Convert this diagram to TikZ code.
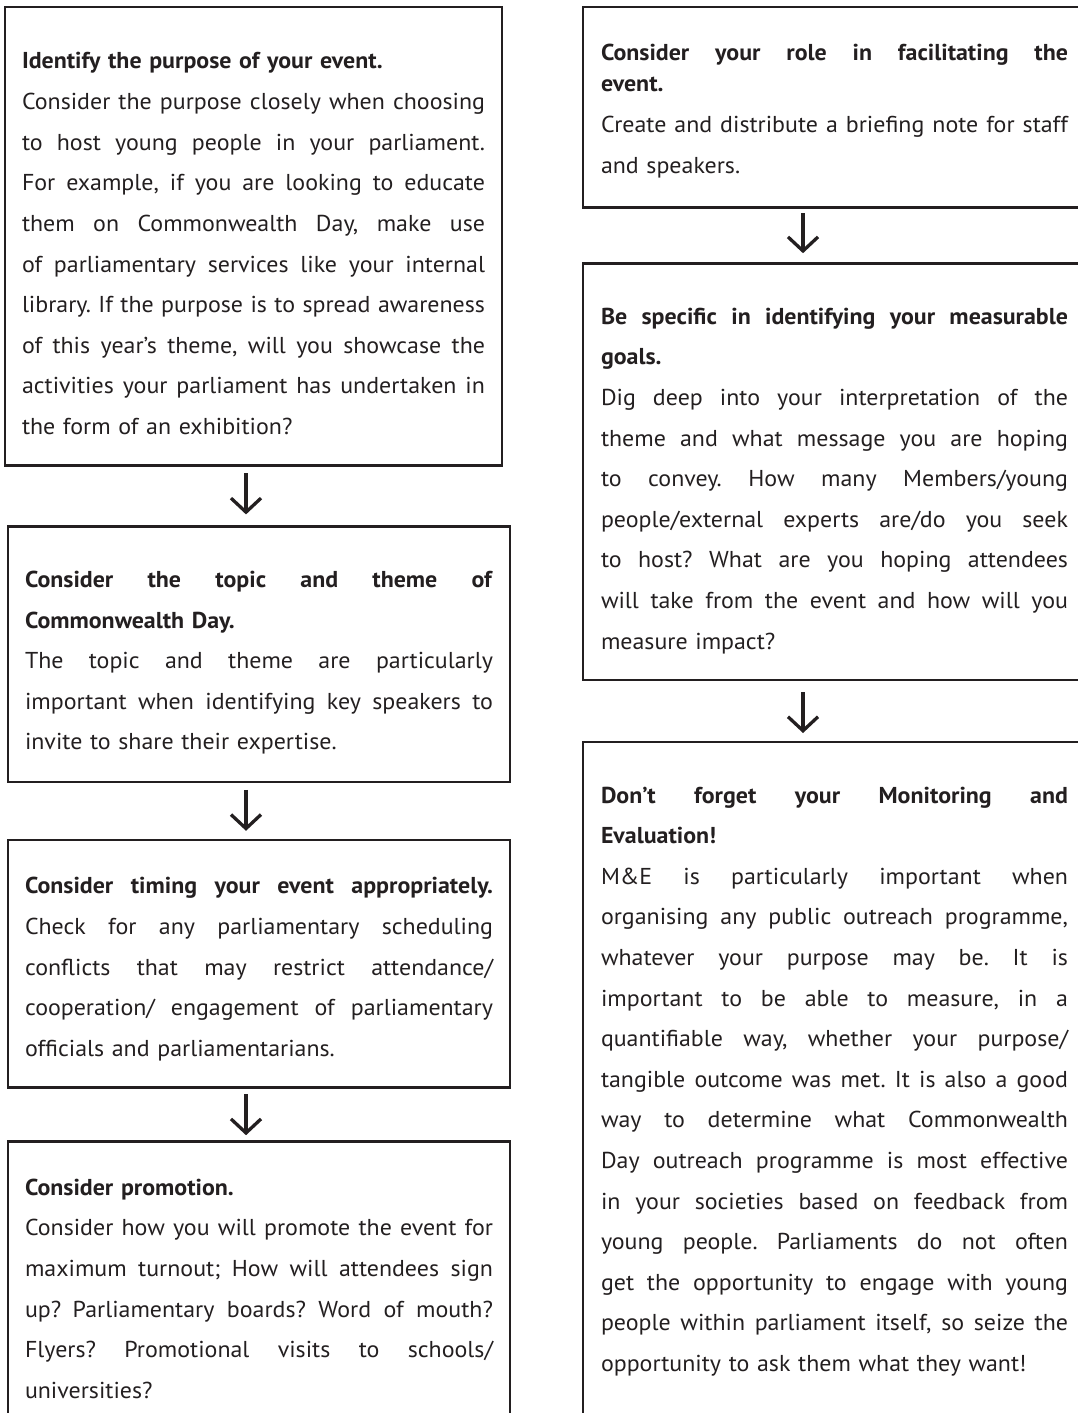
\documentclass[tikz,border=0pt]{standalone}
\usepackage{fontspec}
\setmainfont{PT Sans}[FakeStretch=1.04]
\usetikzlibrary{positioning,arrows.meta}
\definecolor{ink}{RGB}{35,31,32}
\tikzstyle{block} = [rectangle, draw=ink, line width=2.6pt, text=ink,
    text width=468pt, inner xsep=17pt, inner ysep=0pt, outer sep=0pt,
    font=\fontsize{23pt}{40.6pt}\selectfont\frenchspacing,
    execute at begin node={\def\jw{468pt}}]
\tikzstyle{arrow} = [draw=ink, line width=3.3pt, -{Straight Barb[length=14pt,width=30pt]}]
\newcommand{\jline}[1]{\leavevmode\hbox to \jw{\spaceskip=.26em plus 1fill minus .08em\relax #1}}
\newcommand{\padtop}[1][61pt]{\rule{0pt}{#1}}
\newcommand{\padbot}[1][32pt]{\rule[-#1]{0pt}{0pt}}

\begin{document}
\begin{tikzpicture}[x=1pt, y=1pt]
    \useasboundingbox (0,0) rectangle (1078,-1413);
    \clip (0,0) rectangle (1078,-1413);
    \coordinate (leftaxis) at (246,0);
    \coordinate (rightaxis) at (803,0);

    % left column
    \node[block, text width=463pt, execute at begin node={\def\jw{463pt}}, anchor=north west] (purpose) at (5,-7) {\padtop[62pt]\textbf{Identify the purpose of your event.}\\
        \jline{Consider the purpose closely when choosing}\\
        \jline{to host young people in your parliament.}\\
        \jline{For example, if you are looking to educate}\\
        \jline{them on Commonwealth Day, make use}\\
        \jline{of parliamentary services like your internal}\\
        \jline{library. If the purpose is to spread awareness}\\
        \jline{of this year’s theme, will you showcase the}\\
        \jline{activities your parliament has undertaken in}\\
        the form of an exhibition?\padbot[31pt]};
    \node[block, below=61pt of purpose, xshift=5.5pt] (topic) {\padtop\jline{\textbf{Consider the topic and theme of}}\\
        \textbf{Commonwealth Day.}\\
        \jline{The topic and theme are particularly}\\
        \jline{important when identifying key speakers to}\\
        invite to share their expertise.\padbot};
    \node[block, below=58pt of topic] (timing) {\padtop[54pt]\jline{\textbf{Consider timing your event appropriately.}}\\
        \jline{Check for any parliamentary scheduling}\\
        \jline{conflicts that may restrict attendance/}\\
        \jline{cooperation/ engagement of parliamentary}\\
        officials and parliamentarians.\padbot[31pt]};
    \node[block, below=54pt of timing] (promotion) {\padtop[54pt]\textbf{Consider promotion.}\\
        \jline{Consider how you will promote the event for}\\
        \jline{maximum turnout; How will attendees sign}\\
        \jline{up?\hskip.5em Parliamentary boards? Word of mouth?}\\
        \jline{Flyers? Promotional visits to schools/}\\
        universities?\padbot[150pt]};

    % right column
    \node[block, text width=467pt, inner xsep=18pt, execute at begin node={\def\jw{467pt}}, anchor=north west] (role) at (583,-7) {\padtop[53pt]\jline{\textbf{Consider your role in facilitating the}}\\[-8.6pt]
        \textbf{event.}\\
        \jline{Create and distribute a briefing note for staff}\\
        and speakers.\padbot[34pt]};
    \node[block, text width=467pt, inner xsep=18pt, execute at begin node={\def\jw{467pt}}, below=56pt of role] (goals) {\padtop\jline{\textbf{Be specific in identifying your measurable}}\\
        \textbf{goals.}\\
        \jline{Dig deep into your interpretation of the}\\
        \jline{theme and what message you are hoping}\\
        \jline{to convey. How many Members/young}\\
        \jline{people/external experts are/do you seek}\\
        \jline{to host? What are you hoping attendees}\\
        \jline{will take from the event and how will you}\\
        measure impact?\padbot[31pt]};
    \node[block, text width=467pt, inner xsep=18pt, execute at begin node={\def\jw{467pt}}, below=62pt of goals] (evaluation) {\padtop\jline{\textbf{Don’t forget your Monitoring and}}\\
        \textbf{Evaluation!}\\
        \jline{M\&E is particularly important when}\\
        \jline{organising any public outreach programme,}\\
        \jline{whatever your purpose may be. It is}\\
        \jline{important to be able to measure, in a}\\
        \jline{quantifiable way, whether your purpose/}\\
        \jline{tangible outcome was met. It is also a good}\\
        \jline{way to determine what Commonwealth}\\
        \jline{Day outreach programme is most effective}\\
        \jline{in your societies based on feedback from}\\
        \jline{young people. Parliaments do not often}\\
        \jline{get the opportunity to engage with young}\\
        \jline{people within parliament itself, so seize the}\\
        opportunity to ask them what they want!\padbot[150pt]};

    \draw[arrow, shorten <=8pt, shorten >=12pt] (purpose.south -| leftaxis) -- (topic.north -| leftaxis);
    \draw[arrow, shorten <=8pt, shorten >=9pt] (topic.south -| leftaxis) -- (timing.north -| leftaxis);
    \draw[arrow, shorten <=7pt, shorten >=6pt] (timing.south -| leftaxis) -- (promotion.north -| leftaxis);
    \draw[arrow, shorten <=6pt, shorten >=10pt] (role.south -| rightaxis) -- (goals.north -| rightaxis);
    \draw[arrow, shorten <=12pt, shorten >=9pt] (goals.south -| rightaxis) -- (evaluation.north -| rightaxis);
\end{tikzpicture}
\end{document}
